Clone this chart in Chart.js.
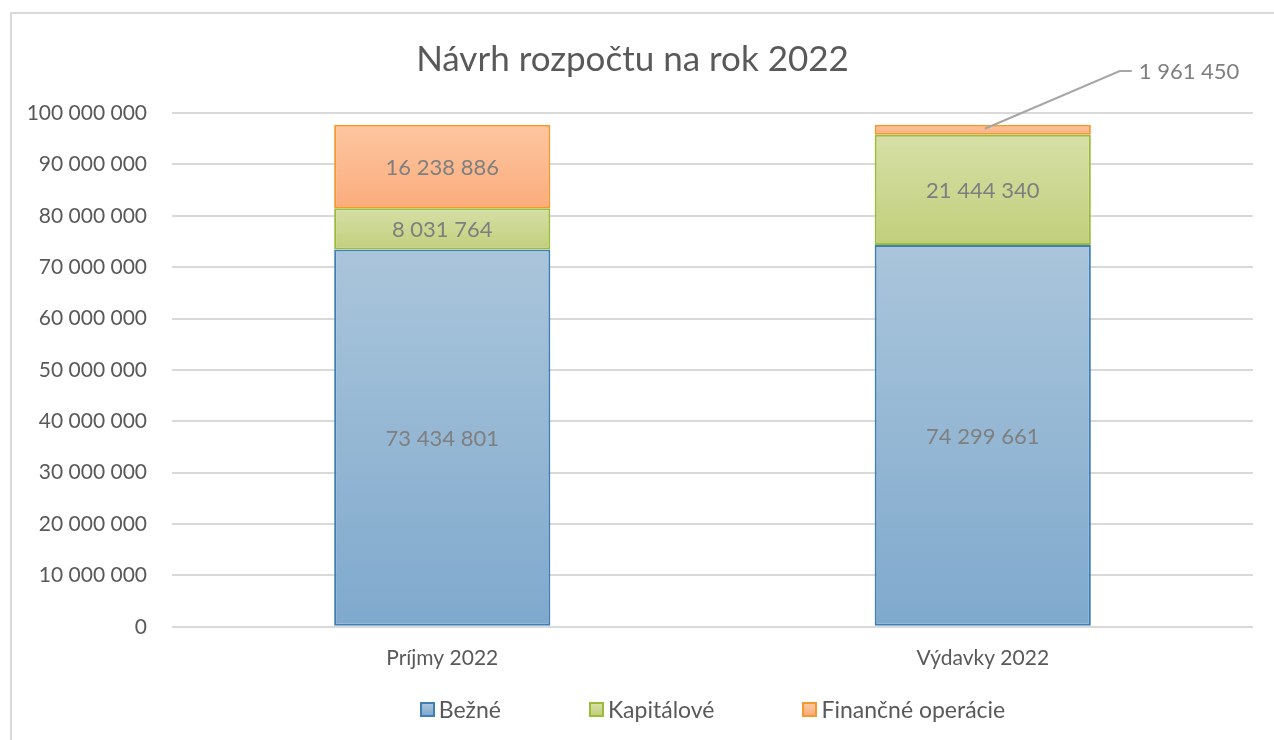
<!DOCTYPE html>
<html>
<head>
<meta charset="utf-8">
<script src="https://cdn.jsdelivr.net/npm/chart.js@4/dist/chart.umd.min.js"></script>
<style>
  html,body{margin:0;padding:0;background:#fff;overflow:hidden;width:1274px;height:740px}
  #frame{position:absolute;left:10px;top:12px;width:1274px;height:740px;border:2px solid #d9d9d9;box-sizing:border-box;background:#fff}
  #c{position:absolute;left:0;top:0}
  #legend{position:absolute;top:681px;display:flex;justify-content:center;gap:88px;font-family:Lato,sans-serif;font-size:23px;color:#595959}
  #legend span.item{display:flex;align-items:center;white-space:nowrap}
  #legend span.box{display:inline-block;width:11px;height:11px;margin-right:4px;border:2px solid}
</style>
</head>
<body>
<div id="frame">
  <canvas id="c" width="1270" height="726"></canvas>
  <div id="legend"></div>
</div>
<script>
const title='Návrh rozpočtu na rok 2022';
const categories=['Príjmy 2022','Výdavky 2022'];
const seriesNames=['Bežné','Kapitálové','Finančné operácie'];
const bezne=[73434801,74299661];
const kapitalove=[8031764,21444340];
const financne=[16238886,1961450];
const yTicks=[0,10000000,20000000,30000000,40000000,50000000,60000000,70000000,80000000,90000000,100000000];
const values=[bezne,kapitalove,financne];
const fills=[['#aac5db','#7fa9cd'],['#d6dfa6','#c2cf7c'],['#fdc6a1','#fbac7c']];
const borders=['#3f7fb8','#9bbb3b','#f7982f'];
const FONT='Lato, sans-serif';
const fmt=n=>String(n).replace(/\B(?=(\d{3})+(?!\d))/g,' ');

function segFill(i){
  return ctx=>{
    const chart=ctx.chart;
    if(ctx.type!=='data'||!chart.chartArea) return fills[i][1];
    const j=ctx.dataIndex, y=chart.scales.y;
    let start=0; for(let k=0;k<i;k++) start+=values[k][j];
    const top=y.getPixelForValue(start+values[i][j]), bot=y.getPixelForValue(start);
    const g=chart.ctx.createLinearGradient(0,top,0,bot);
    g.addColorStop(0,fills[i][0]); g.addColorStop(1,fills[i][1]);
    return g;
  };
}

const labelsPlugin={
  id:'segLabels',
  afterDatasetsDraw(chart){
    const c=chart.ctx; c.save();
    c.font='22px '+FONT; c.fillStyle='#7f7f7f'; c.textBaseline='middle';
    chart.data.datasets.forEach((ds,i)=>{
      chart.getDatasetMeta(i).data.forEach((el,j)=>{
        const {x,y,base}=el.getProps(['x','y','base'],true);
        const txt=fmt(ds.data[j]);
        if(base-y>28){
          c.textAlign='center'; c.fillText(txt,x,(y+base)/2+1);
        }else{
          const ly=chart.chartArea.top-42, lx=x+137;
          c.strokeStyle='#a6a6a6'; c.lineWidth=2;
          c.beginPath(); c.moveTo(x+2,y+4); c.lineTo(lx,ly); c.lineTo(lx+12,ly); c.stroke();
          c.textAlign='left'; c.fillText(txt,lx+19,ly+1);
        }
      });
    });
    c.restore();
  }
};

const chart=new Chart(document.getElementById('c'),{
  type:'bar',
  data:{labels:categories,datasets:seriesNames.map((n,i)=>({
    label:n,data:values[i],backgroundColor:segFill(i),borderColor:borders[i],
    borderWidth:2,borderSkipped:false,barPercentage:0.4,categoryPercentage:1
  }))},
  options:{
    responsive:false,animation:false,
    layout:{padding:{left:0,right:29,top:0,bottom:58}},
    plugins:{
      legend:{display:false},tooltip:{enabled:false},
      title:{display:true,text:title,color:'#595959',font:{family:FONT,size:35,weight:'normal'},padding:{top:25,bottom:32}}
    },
    scales:{
      x:{stacked:true,grid:{display:false},border:{display:false},
        ticks:{color:'#595959',font:{family:FONT,size:21},padding:11}},
      y:{stacked:true,min:0,max:100000000,
        afterBuildTicks:s=>{s.ticks=yTicks.map(v=>({value:v}));},
        afterFit:s=>{s.width=160;},
        grid:{color:'#d9d9d9',lineWidth:2,drawTicks:false},border:{display:false},
        ticks:{color:'#595959',font:{family:FONT,size:21},padding:25,callback:v=>fmt(v)}}
    }
  },
  plugins:[labelsPlugin]
});

const lg=document.getElementById('legend');
lg.style.left=chart.chartArea.left+'px'; lg.style.width=(chart.chartArea.right-chart.chartArea.left)+'px';
seriesNames.forEach((n,i)=>{
  const it=document.createElement('span'); it.className='item';
  it.innerHTML=`<span class="box" style="background:linear-gradient(${fills[i][0]},${fills[i][1]});border-color:${borders[i]}"></span>${n}`;
  lg.appendChild(it);
});
</script>
</body>
</html>
